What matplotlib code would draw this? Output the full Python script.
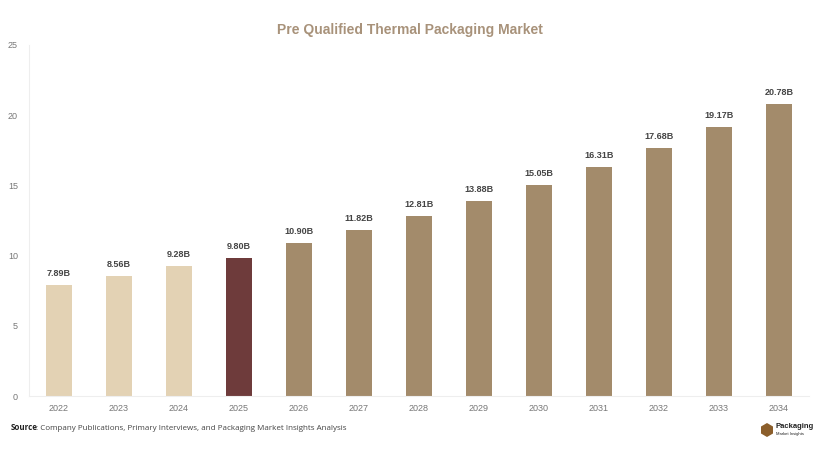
import matplotlib
matplotlib.use("Agg")
import matplotlib.pyplot as plt
from matplotlib.patches import Polygon

years = ["2022", "2023", "2024", "2025", "2026", "2027", "2028", "2029", "2030", "2031", "2032", "2033", "2034"]
values = [7.89, 8.56, 9.28, 9.80, 10.90, 11.82, 12.81, 13.88, 15.05, 16.31, 17.68, 19.17, 20.78]
labels = ["7.89B", "8.56B", "9.28B", "9.80B", "10.90B", "11.82B", "12.81B", "13.88B", "15.05B", "16.31B", "17.68B", "19.17B", "20.78B"]
yticks = [0, 5, 10, 15, 20, 25]

c_hist = "#E3D2B4"
c_base = "#6E3B3B"
c_fore = "#A38B6B"
colors = [c_hist] * 3 + [c_base] + [c_fore] * 9

plt.rcParams['font.family'] = ['Liberation Sans', 'DejaVu Sans']
fig = plt.figure(figsize=(8.2, 4.54), dpi=100)
ax = fig.add_axes([29 / 820, 1 - 396 / 454, 780 / 820, 351 / 454])

x = list(range(len(years)))
bars = ax.bar(x, values, width=0.43, color=colors, zorder=2)
for xi, v, lab in zip(x, values, labels):
    ax.annotate(lab, (xi, v), xytext=(0, 5), textcoords="offset points",
                ha="center", va="bottom", fontsize=6.5, fontweight="bold", color="#444444")

ax.set_xlim(-0.5, len(years) - 0.5)
ax.set_ylim(0, 25)
ax.set_yticks(yticks)
ax.set_yticklabels([str(t) for t in yticks])
ax.set_xticks(x)
ax.set_xticklabels(years)
ax.tick_params(axis="both", length=0, labelsize=6.5, colors="#777777")
ax.tick_params(axis="x", pad=6)
ax.tick_params(axis="y", pad=8)
for s in ["top", "right"]:
    ax.spines[s].set_visible(False)
ax.spines["left"].set_color("#EEEEEE")
ax.spines["bottom"].set_color("#EEEEEE")

fig.text(0.5, 1 - 30 / 454, "Pre Qualified Thermal Packaging Market", ha="center", va="center",
         fontsize=10, fontweight="bold", color="#A8927A")

fig.text(11 / 820, 1 - 428 / 454, "Source", ha="left", va="center", fontsize=5.8,
         fontweight="bold", color="#222222", family=["Open Sans", "DejaVu Sans"])
fig.text(36 / 820, 1 - 428 / 454, ": Company Publications, Primary Interviews, and Packaging Market Insights Analysis",
         ha="left", va="center", fontsize=5.8, color="#444444", family=["Open Sans", "DejaVu Sans"])

# logo
hx, hy = 767 / 820, 1 - 430 / 454
w, h = 6 / 820, 7 / 454
hexa = Polygon([(hx, hy + h), (hx + w, hy + h / 2), (hx + w, hy - h / 2), (hx, hy - h),
                (hx - w, hy - h / 2), (hx - w, hy + h / 2)], closed=True,
               transform=fig.transFigure, facecolor="#8B5E2B", edgecolor="none")
fig.patches.append(hexa)
fig.text(776 / 820, 1 - 426 / 454, "Packaging", ha="left", va="center", fontsize=5.5,
         fontweight="bold", color="#222222")
fig.text(776 / 820, 1 - 434 / 454, "Market Insights", ha="left", va="center", fontsize=3,
         color="#222222")

fig.savefig("out.png", dpi=100, facecolor="white")
